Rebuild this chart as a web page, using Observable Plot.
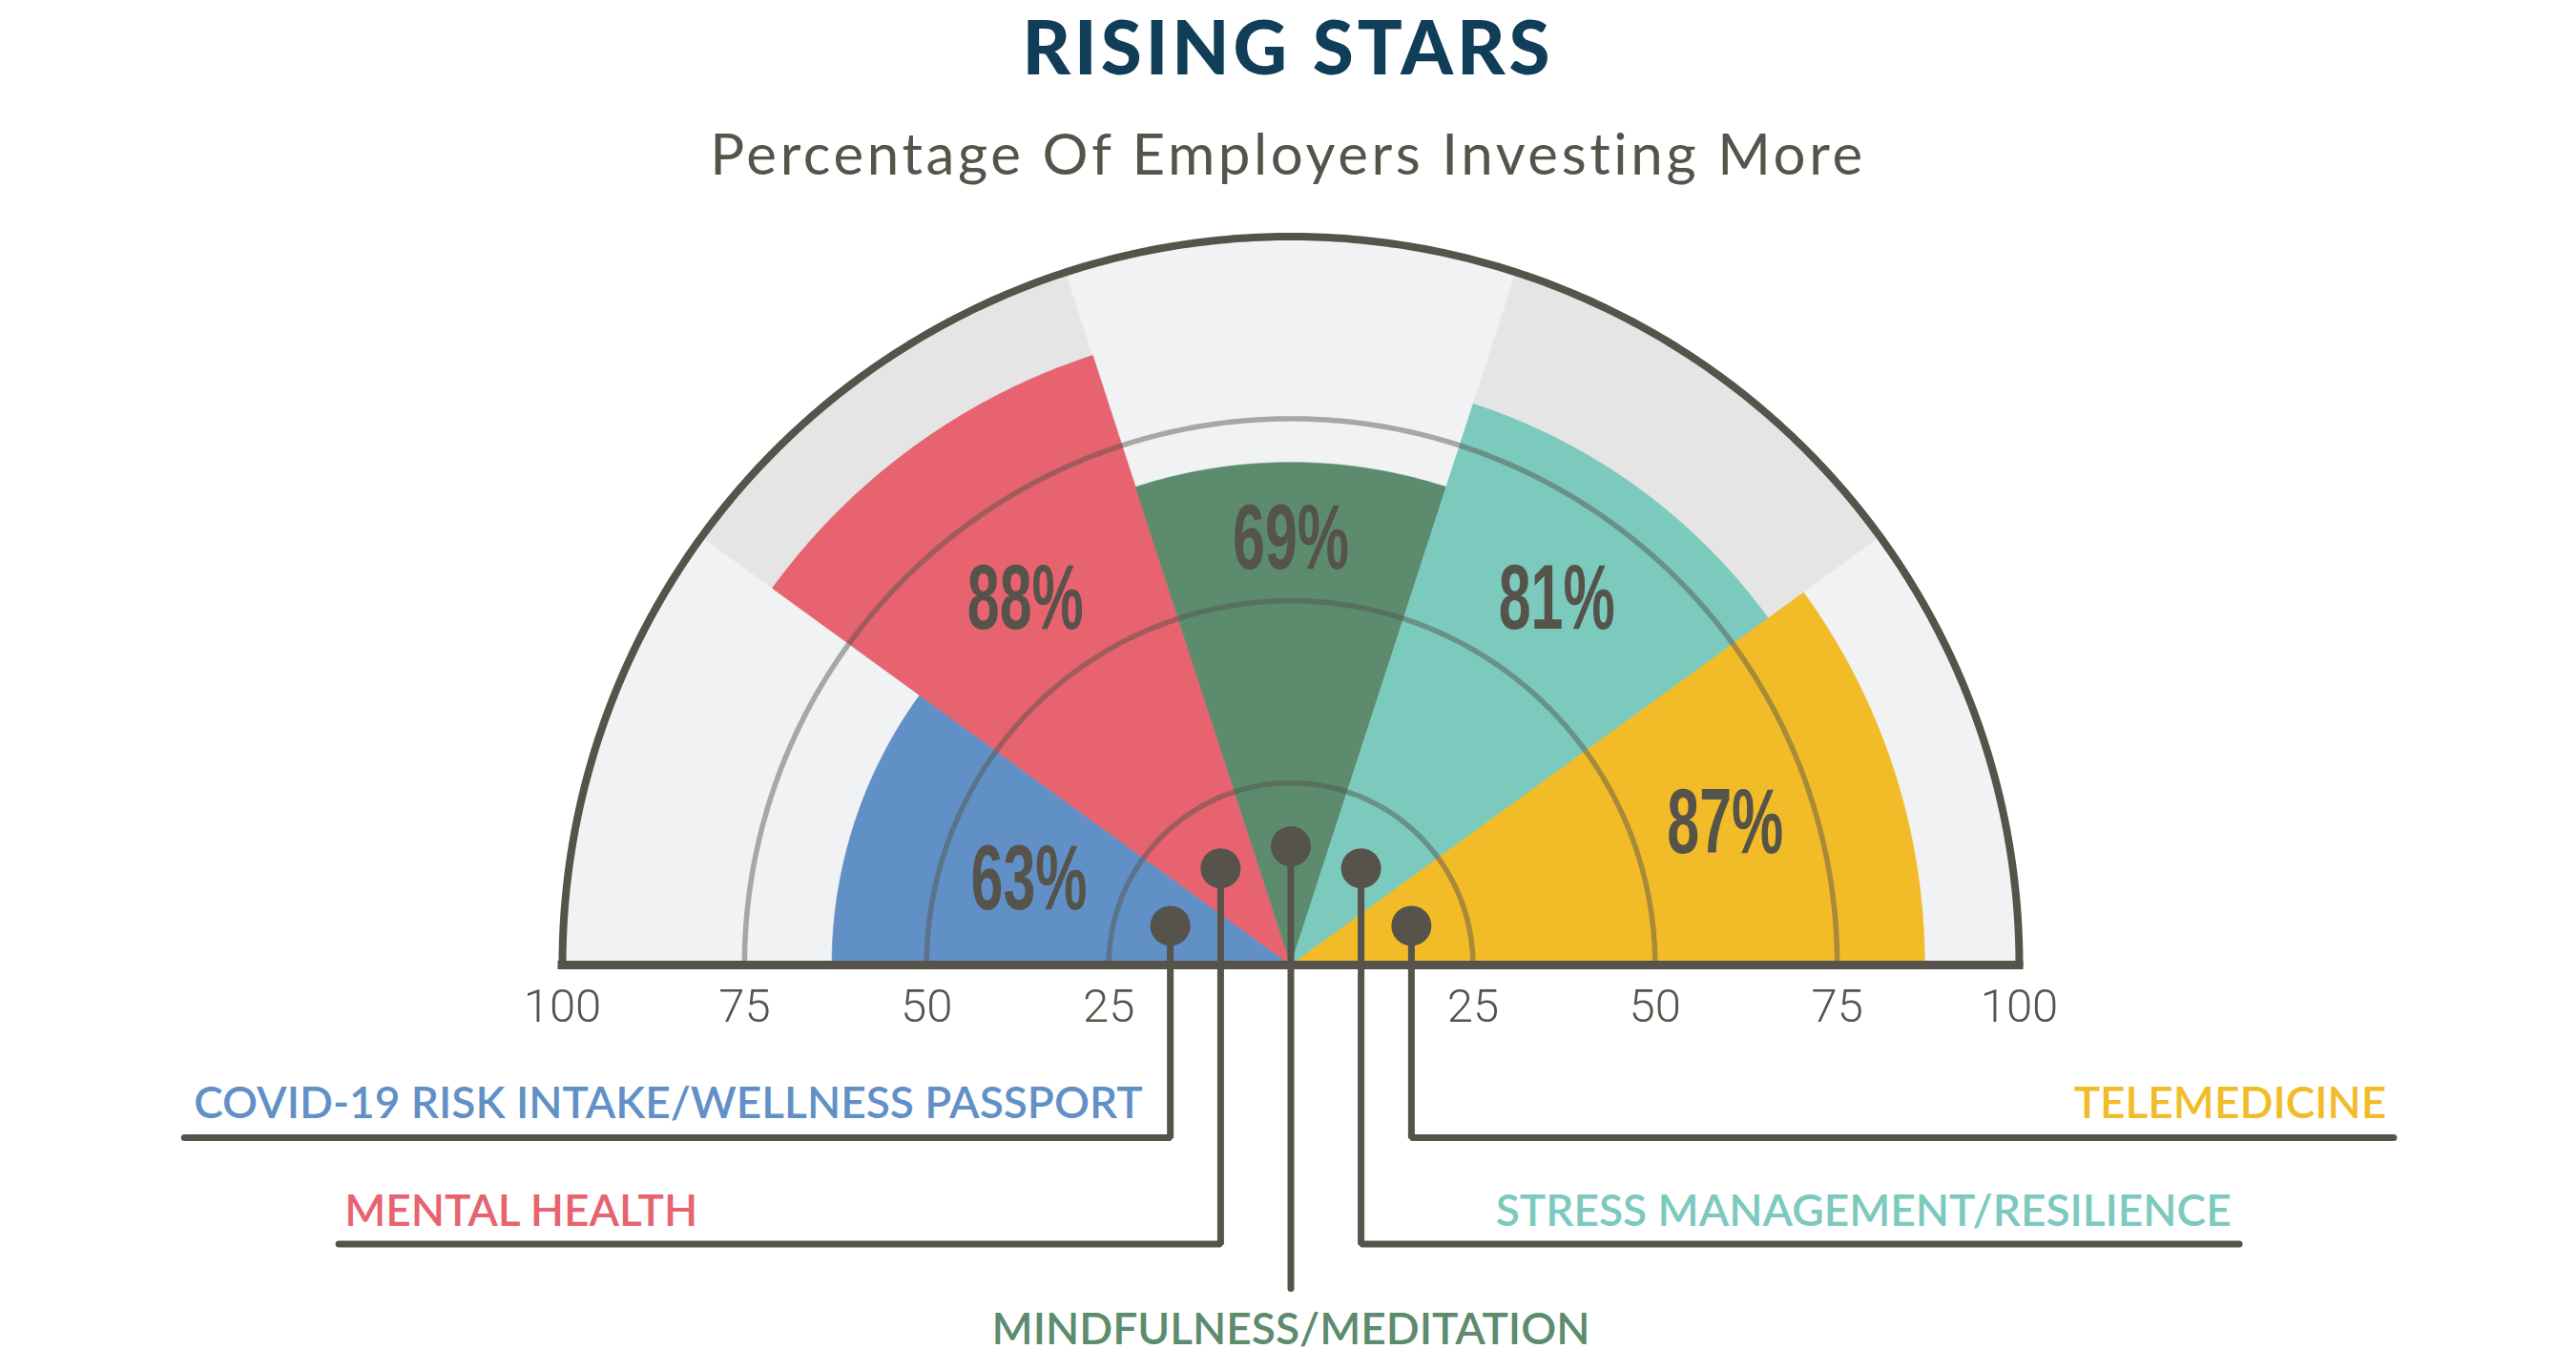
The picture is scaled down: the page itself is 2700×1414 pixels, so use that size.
<!DOCTYPE html>
<html>
<head>
<meta charset="utf-8">
<script src="https://cdn.jsdelivr.net/npm/d3@7"></script>
<script src="https://cdn.jsdelivr.net/npm/@observablehq/plot@0.6"></script>
<style>
  html, body { margin: 0; padding: 0; background: #ffffff; overflow: hidden; }
  #head { position: relative; width: 2700px; height: 210px; }
  #title { position: absolute; left: 0; top: 1px; width: 2700px; text-align: center;
           font: 900 78px Lato, "Open Sans", sans-serif; line-height: normal; color: #103d57; letter-spacing: 4px; }
  #subtitle { position: absolute; left: 0; top: 130px; width: 2700px; text-align: center;
           font: 400 60px/60px Lato, "Open Sans", sans-serif; color: #55534a; letter-spacing: 3.6px; }
</style>
</head>
<body>
<div id="head">
  <div id="title">RISING STARS</div>
  <div id="subtitle">Percentage Of Employers Investing More</div>
</div>
<div id="chart"></div>
<script>
// ---- data ----
const categories = [
  "COVID-19 RISK INTAKE/WELLNESS PASSPORT",
  "MENTAL HEALTH",
  "MINDFULNESS/MEDITATION",
  "STRESS MANAGEMENT/RESILIENCE",
  "TELEMEDICINE"
];
const values = [63, 88, 69, 81, 87];
const colors = ["#6190c6", "#e6636f", "#5c8b6e", "#7cc9bd", "#f2bb28"];
const backgrounds = ["#f0f2f4", "#e5e5e5", "#f0f2f4", "#e5e5e5", "#f0f2f4"];
const tickValues = [-100, -75, -50, -25, 25, 50, 75, 100];
const rings = [25, 50, 75];

// ---- layout ----
const W = 2700, H = 1204;
const R = 763.5;          // pixel radius of 100%
const cy = 801;           // svg y of the centre
const dark = "#55534a";
const n = categories.length;
const step = 180 / n;
const rad = Math.PI / 180;

function arcPts(r, a0, a1) {
  const pts = [];
  const m = Math.max(2, Math.ceil(Math.abs(a1 - a0) * 2));
  for (let j = 0; j <= m; j++) {
    const a = (a0 + (a1 - a0) * j / m) * rad;
    pts.push({x: r * Math.cos(a), y: r * Math.sin(a)});
  }
  return pts;
}
function wedge(i, r) {
  const a0 = 180 - step * i, a1 = 180 - step * (i + 1);
  return [{x: 0, y: 0}, ...arcPts(r, a0, a1), {x: 0, y: 0}];
}
const mid = i => (180 - step * i - step / 2) * rad;

// label radius inside each wedge and leader geometry (layout, data units)
const labelR = [37.8, 62, 58.4, 62.1, 62.7];
const dotR = [17.4, 16.4, 16.3, 16.4, 17.4];
const leader = [
  {yLead: -23.7, xEnd: -151.9, tx: -150.6, ty: -20.96, anchor: "start"},
  {yLead: -38.3, xEnd: -130.7, tx: -129.9, ty: -35.8, anchor: "start"},
  {yLead: -44.4, xEnd: null,   tx: 0,      ty: -52.0, anchor: "middle"},
  {yLead: -38.3, xEnd: 130.2,  tx: 129.1,  ty: -35.8, anchor: "end"},
  {yLead: -23.7, xEnd: 151.4,  tx: 150.4,  ty: -20.96, anchor: "end"}
];

const items = categories.map((c, i) => ({
  name: c, value: values[i], color: colors[i], i,
  dx: dotR[i] * Math.cos(mid(i)), dy: dotR[i] * Math.sin(mid(i)),
  lx: labelR[i] * Math.cos(mid(i)), ly: labelR[i] * Math.sin(mid(i)),
  label: values[i] + "%"
}));

const leaderPts = items.flatMap(d => {
  const L = leader[d.i];
  const pts = [{k: d.i, x: d.dx, y: d.dy}, {k: d.i, x: d.dx, y: L.yLead}];
  if (L.xEnd !== null) pts.push({k: d.i, x: L.xEnd, y: L.yLead});
  return pts;
});

const ringPts = rings.flatMap(r => arcPts(r, 180, 0).map(p => ({...p, r})));

const marks = [];
items.forEach((d, i) => {
  marks.push(Plot.line(wedge(i, 100), {x: "x", y: "y", fill: backgrounds[i], stroke: backgrounds[i], strokeWidth: 0.6}));
});
items.forEach((d, i) => {
  marks.push(Plot.line(wedge(i, d.value), {x: "x", y: "y", fill: d.color, stroke: d.color, strokeWidth: 0.6}));
});
marks.push(Plot.line(ringPts, {x: "x", y: "y", z: "r", stroke: dark, strokeOpacity: 0.47, strokeWidth: 5.5}));
marks.push(Plot.line(arcPts(100, 180, 0), {x: "x", y: "y", stroke: dark, strokeWidth: 8}));
marks.push(Plot.ruleY([0], {x1: -100, x2: 100, stroke: dark, strokeWidth: 9, strokeLinecap: "square"}));
marks.push(Plot.line(leaderPts, {x: "x", y: "y", z: "k", stroke: dark, strokeWidth: 7, strokeLinejoin: "miter"}));
marks.push(Plot.dot(items, {x: "dx", y: "dy", r: 21, fill: dark, stroke: null}));
marks.push(Plot.text(items, {x: "lx", y: "ly", text: "label", fill: dark, fontSize: 96, fontWeight: 700,
  fontFamily: "'Liberation Sans Narrow', 'Liberation Sans', sans-serif", lineAnchor: "middle", textAnchor: "middle",
  ariaDescription: "pct"}));
["start", "middle", "end"].forEach(a => {
  const sub = items.filter(d => leader[d.i].anchor === a);
  marks.push(Plot.text(sub, {x: d => leader[d.i].tx, y: d => leader[d.i].ty, text: "name", fill: "color",
    fontSize: 46, fontWeight: 600, fontFamily: "Lato, 'Open Sans', sans-serif", lineAnchor: "bottom", textAnchor: a,
    ariaDescription: "cat"}));
});
marks.push(Plot.axisX(tickValues, {tickFormat: v => Math.abs(v), tickSize: 0, tickPadding: 25, fontSize: 49,
  fontWeight: 300, fontFamily: "Roboto, 'Liberation Sans', sans-serif", fill: dark, color: dark, label: null}));

const svg = Plot.plot({
  width: W, height: H,
  marginLeft: 589, marginRight: W - 589 - 2 * R, marginTop: cy - R, marginBottom: H - cy,
  x: {domain: [-100, 100]},
  y: {domain: [0, 100], axis: null},
  style: {background: "transparent", overflow: "visible"},
  marks
});
document.getElementById("chart").appendChild(svg);

// condense the percentage labels horizontally to mimic the condensed face
const pct = d3.select(svg).selectAll('g[aria-description="pct"] text');
let w88 = null;
pct.each(function () { if (this.textContent === "88%") w88 = this.getBBox().width; });
const sx = w88 ? 122 / w88 : 0.8;
pct.attr("transform", function () { return (this.getAttribute("transform") || "") + ` scale(${sx},1)`; });
</script>
</body>
</html>
